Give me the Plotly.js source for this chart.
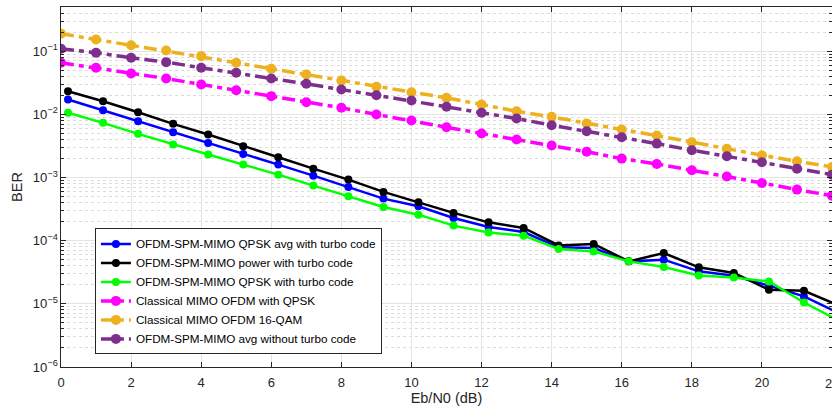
<!DOCTYPE html>
<html>
<head>
<meta charset="utf-8">
<script src="https://cdn.plot.ly/plotly-3.0.1.min.js"></script>
<style>html,body{margin:0;padding:0;background:#fff;}#chart{width:832px;height:412px;}</style>
</head>
<body>
<div id="chart"></div>
<script>
// Eb/N0 points
const xUpper = [0,1,2,3,4,5,6,7,8,9,10,11,12,13,14,15,16,17,18,19,20,21,22];
const xLower = [0.2,1.2,2.2,3.2,4.2,5.2,6.2,7.2,8.2,9.2,10.2,11.2,12.2,13.2,14.2,15.2,16.2,17.2,18.2,19.2,20.2,21.2,22.2];

const berAvgTurbo = [0.01717,0.01161,0.00778,0.00520,0.00353,0.00236,0.00160,0.00107,0.000709,0.000463,0.000350,0.000229,0.000165,0.000137,7.83e-5,7.66e-5,4.70e-5,5.00e-5,3.27e-5,2.79e-5,1.94e-5,1.31e-5,7.1e-6];
const berPowerTurbo = [0.0232,0.01614,0.01079,0.00706,0.00478,0.00312,0.00209,0.00138,0.000927,0.000591,0.000405,0.000275,0.000195,0.000159,8.42e-5,8.87e-5,4.70e-5,6.38e-5,3.78e-5,3.08e-5,1.67e-5,1.61e-5,9.4e-6];
const berQpskTurbo = [0.01057,0.00733,0.00491,0.00332,0.00231,0.00160,0.00111,0.000745,0.000504,0.000342,0.000258,0.000173,0.000135,0.000120,7.38e-5,6.76e-5,4.70e-5,3.83e-5,2.82e-5,2.62e-5,2.26e-5,1.05e-5,5.4e-6];
const berClassicQpsk = [0.0655,0.0546,0.0444,0.0369,0.0297,0.0241,0.0194,0.01556,0.01268,0.00993,0.00798,0.00625,0.00497,0.00399,0.00321,0.00255,0.00199,0.00164,0.00130,0.00104,0.00082,0.000643,0.000516];
const berClassic16qam = [0.189,0.153,0.124,0.1026,0.0834,0.0655,0.0526,0.0427,0.0344,0.0273,0.0224,0.01823,0.01428,0.01119,0.00912,0.00714,0.00574,0.00461,0.00361,0.00284,0.00225,0.00181,0.00147];
const berAvgNoTurbo = [0.109,0.0944,0.0786,0.0670,0.0546,0.0455,0.0369,0.0304,0.0247,0.0201,0.01656,0.01315,0.01057,0.00858,0.00671,0.00540,0.00434,0.00344,0.00270,0.00217,0.00174,0.00138,0.00111];

const names = [
  'OFDM-SPM-MIMO QPSK avg with turbo code',
  'OFDM-SPM-MIMO power with turbo code',
  'OFDM-SPM-MIMO QPSK with turbo code',
  'Classical MIMO OFDM with QPSK',
  'Classical MIMO OFDM 16-QAM',
  'OFDM-SPM-MIMO avg without turbo code'
];
const lastTickLabel = '22';

function solid(x, y, name, color) {
  return {x: x, y: y, name: name, type: 'scatter', mode: 'lines+markers', cliponaxis: true,
    line: {color: color, width: 2.5}, marker: {symbol: 'circle', size: 8, color: color}};
}
function dd(x, y, name, color) {
  return {x: x, y: y, name: name, type: 'scatter', mode: 'lines+markers', cliponaxis: true,
    line: {color: color, width: 3.5, dash: '13px,5px,5px,5px'}, marker: {symbol: 'circle', size: 10, color: color}};
}

const data = [
  solid(xLower, berAvgTurbo, names[0], '#0000FF'),
  solid(xLower, berPowerTurbo, names[1], '#000000'),
  solid(xLower, berQpskTurbo, names[2], '#00FF00'),
  dd(xUpper, berClassicQpsk, names[3], '#FF00FF'),
  dd(xUpper, berClassic16qam, names[4], '#EDB120'),
  dd(xUpper, berAvgNoTurbo, names[5], '#7E2F8E')
];

const layout = {
  width: 832, height: 412,
  margin: {l: 61, r: 0, t: 7, b: 45},
  paper_bgcolor: '#fff', plot_bgcolor: '#fff',
  font: {family: 'Liberation Sans, Arial, sans-serif', color: '#262626'},
  showlegend: true,
  legend: {x: 0.044, y: 0.385, xanchor: 'left', yanchor: 'top', bgcolor: '#fff',
    bordercolor: '#262626', borderwidth: 1, font: {size: 11.7, color: '#000'}, tracegroupgap: 0},
  xaxis: {
    range: [0, 22], dtick: 2, tick0: 0,
    showline: true, linecolor: '#262626', linewidth: 1, mirror: 'ticks',
    ticks: 'inside', ticklen: 5, tickcolor: '#262626', ticklabelstandoff: 3,
    showgrid: true, gridcolor: '#e3e3e3', gridwidth: 1, zeroline: false,
    tickfont: {size: 13, color: '#262626'},
    title: {text: 'Eb/N0 (dB)', font: {size: 14.5, color: '#262626'}, standoff: 4}
  },
  yaxis: {
    type: 'log', range: [-6, Math.log10(0.5)], dtick: 1,
    exponentformat: 'power',
    showline: true, linecolor: '#262626', linewidth: 1, mirror: 'ticks',
    ticks: 'inside', ticklen: 5, tickcolor: '#262626',
    showgrid: true, gridcolor: '#e3e3e3', gridwidth: 1, zeroline: false,
    tickfont: {size: 10.5, color: '#262626'},
    minor: {dtick: 'D1', ticks: 'inside', ticklen: 3, tickcolor: '#262626', showgrid: true, gridcolor: '#dcdcdc', griddash: 'dot', gridwidth: 1},
    title: {text: 'BER', font: {size: 14.5, color: '#262626'}, standoff: 6}
  },
  annotations: [{
    x: 22, xref: 'x', y: 0, yref: 'paper', yanchor: 'top', xanchor: 'center', yshift: -7,
    text: lastTickLabel, showarrow: false, font: {size: 13, color: '#262626'}
  }]
};

Plotly.newPlot('chart', data, layout, {staticPlot: true, displayModeBar: false});
</script>
</body>
</html>
